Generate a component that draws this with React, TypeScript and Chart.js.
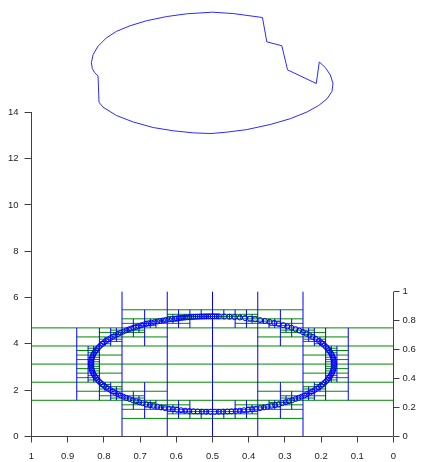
import React, { useEffect, useRef } from 'react';
import { Chart, registerables } from 'chart.js';
Chart.register(...registerables);

// ---- upper blue curve (left axis units) ----
const topCurveX = [0.8347, 0.8295, 0.8162, 0.7932, 0.7655, 0.7285, 0.6824, 0.627, 0.5716, 0.5005, 0.4423, 0.362, 0.35, 0.3084, 0.2927, 0.2133, 0.205, 0.1884, 0.1745, 0.1671, 0.1699, 0.1837, 0.2068, 0.2391, 0.2853, 0.3407, 0.4054, 0.4608, 0.5042, 0.5531, 0.6085, 0.6639, 0.7193, 0.7655, 0.8024, 0.8135, 0.8162, 0.8255, 0.8319, 0.8347];
const topCurveY = [16.14, 16.5, 16.85, 17.21, 17.49, 17.73, 17.95, 18.13, 18.25, 18.32, 18.26, 18.09, 17.04, 16.87, 15.83, 15.24, 16.17, 15.93, 15.61, 15.24, 14.9, 14.58, 14.29, 14.01, 13.72, 13.47, 13.25, 13.14, 13.08, 13.11, 13.2, 13.34, 13.58, 13.86, 14.22, 14.43, 15.57, 15.71, 15.88, 16.14];

// ---- circle markers (right axis units) ----
const markerX = [
  0.5, 0.5059, 0.5117, 0.5176, 0.5234, 0.5293, 0.5351, 0.541, 0.5468, 0.5526, 0.5583, 0.5641, 0.5699, 0.5756, 0.5813, 0.587, 0.5926, 0.5982, 0.6038,
  0.6122, 0.6204, 0.6286, 0.6367, 0.6446, 0.6525, 0.6603, 0.668, 0.6756, 0.683, 0.6903, 0.6975, 0.7046, 0.7114, 0.7182, 0.7248, 0.7313,
  0.7376, 0.7458, 0.7536, 0.7611, 0.7683, 0.7752, 0.7818, 0.788, 0.7939, 0.7994, 0.8045, 0.8093, 0.8137, 0.8177, 0.8213, 0.8245, 0.8274, 0.8298, 0.8319, 0.8335, 0.8347, 0.8355, 0.8359,
  0.8359, 0.8355, 0.8347, 0.8335, 0.8319, 0.8298, 0.8274, 0.8245, 0.8213, 0.8177, 0.8137, 0.8093, 0.8045, 0.7994, 0.7939, 0.788, 0.7818, 0.7752, 0.7683, 0.7611, 0.7536, 0.7458, 0.7376,
  0.7292, 0.7204, 0.7114, 0.7022, 0.6927, 0.683, 0.673, 0.6629, 0.6525, 0.642, 0.6313, 0.6204, 0.6094, 0.5982, 0.587, 0.5756, 0.5641,
  0.5526, 0.541, 0.5293, 0.5176, 0.5059, 0.4941, 0.4824, 0.4707, 0.459, 0.4474,
  0.4359, 0.4244, 0.413, 0.4018, 0.3906, 0.3796, 0.3687, 0.358, 0.3475, 0.3371, 0.327, 0.317, 0.3073, 0.2978, 0.2886, 0.2796, 0.2708, 0.2624, 0.2542, 0.2464, 0.2389, 0.2317, 0.2248, 0.2182, 0.212,
  0.2061, 0.2006, 0.1955, 0.1907, 0.1863, 0.1823, 0.1787, 0.1755, 0.1726, 0.1702, 0.1681, 0.1665, 0.1653, 0.1645, 0.1641,
  0.1641, 0.1645, 0.1653, 0.1665, 0.1681, 0.1702, 0.1726, 0.1755, 0.1787, 0.1823, 0.1863, 0.1907, 0.1955, 0.2006, 0.2061,
  0.2151, 0.2231, 0.2317, 0.2407, 0.2503, 0.2603, 0.2708, 0.2818, 0.2931, 0.3049, 0.317, 0.3295, 0.3422, 0.3554, 0.3687, 0.3823, 0.3962, 0.4102, 0.4244, 0.4388, 0.4532, 0.4678, 0.4824, 0.4883, 0.4941
];
const markerY = [
  0.83, 0.83, 0.8298, 0.8295, 0.8292, 0.8287, 0.8282, 0.8275, 0.8268, 0.8259, 0.825, 0.8239, 0.8228, 0.8215, 0.8202, 0.8187, 0.8172, 0.8156, 0.8139,
  0.8111, 0.8081, 0.8049, 0.8015, 0.7979, 0.794, 0.79, 0.7858, 0.7814, 0.7768, 0.772, 0.767, 0.7618, 0.7564, 0.7509, 0.7452, 0.7394,
  0.7333, 0.7251, 0.7165, 0.7077, 0.6986, 0.6893, 0.6797, 0.67, 0.66, 0.6498, 0.6395, 0.6289, 0.6183, 0.6074, 0.5965, 0.5854, 0.5742, 0.563, 0.5516, 0.5402, 0.5288, 0.5173, 0.5058,
  0.4942, 0.4827, 0.4712, 0.4598, 0.4484, 0.437, 0.4258, 0.4146, 0.4035, 0.3926, 0.3817, 0.3711, 0.3605, 0.3502, 0.34, 0.33, 0.3203, 0.3107, 0.3014, 0.2923, 0.2835, 0.2749, 0.2667,
  0.2586, 0.2509, 0.2436, 0.2365, 0.2297, 0.2232, 0.2171, 0.2114, 0.206, 0.2009, 0.1962, 0.1919, 0.188, 0.1844, 0.1813, 0.1784, 0.1761,
  0.1741, 0.1725, 0.1713, 0.1705, 0.1701, 0.1701, 0.1705, 0.1713, 0.1725, 0.1741,
  0.1761, 0.1784, 0.1813, 0.1844, 0.188, 0.1919, 0.1962, 0.2009, 0.206, 0.2114, 0.2171, 0.2232, 0.2297, 0.2365, 0.2436, 0.2509, 0.2586, 0.2667, 0.2749, 0.2835, 0.2923, 0.3014, 0.3107, 0.3203, 0.33,
  0.34, 0.3502, 0.3605, 0.3711, 0.3817, 0.3926, 0.4035, 0.4146, 0.4258, 0.437, 0.4484, 0.4598, 0.4712, 0.4827, 0.4942,
  0.5058, 0.5173, 0.5288, 0.5402, 0.5516, 0.563, 0.5742, 0.5854, 0.5965, 0.6074, 0.6183, 0.6289, 0.6395, 0.6498, 0.66,
  0.6749, 0.6869, 0.6986, 0.7099, 0.7208, 0.7313, 0.7414, 0.7509, 0.76, 0.7687, 0.7768, 0.7843, 0.7914, 0.7979, 0.8038, 0.8091, 0.8139, 0.818, 0.8216, 0.8245, 0.8268, 0.8285, 0.8295, 0.8298, 0.83
];

// ---- cell crosses: centers in units of 1/denominator; half-length = 1/denominator ----
const cellDenominators = [2, 4, 8, 16, 32, 64];
const level0X = [1];
const level0Y = [1];
const level1X = [1, 1, 3, 3];
const level1Y = [1, 3, 1, 3];
const level2X = [3, 5, 1, 3, 5, 7, 1, 3, 5, 7, 3, 5];
const level2Y = [1, 1, 3, 3, 3, 3, 5, 5, 5, 5, 7, 7];
const level3X = [11, 13, 13, 9, 11, 5, 3, 3, 7, 5, 5, 3, 3, 7, 5, 11, 13, 13, 9, 11];
const level3Y = [11, 9, 11, 13, 13, 11, 9, 11, 13, 13, 5, 7, 5, 3, 3, 5, 7, 5, 3, 3];
const level4X = [23, 27, 27, 25, 25, 19, 17, 19, 21, 23, 9, 5, 5, 7, 7, 13, 15, 13, 11, 9, 9, 5, 5, 7, 7, 13, 15, 13, 11, 9, 23, 27, 27, 25, 25, 19, 17, 19, 21, 23];
const level4Y = [23, 17, 19, 21, 23, 25, 27, 27, 25, 25, 23, 17, 19, 21, 23, 25, 27, 27, 25, 25, 9, 15, 13, 11, 9, 7, 5, 5, 7, 7, 9, 15, 13, 11, 9, 7, 5, 5, 7, 7];
const level5X = [
  53, 53, 53, 53, 51, 51, 49, 49, 49, 47, 45, 45, 43, 43, 41, 39, 39, 37, 35, 33,
  11, 11, 11, 11, 13, 13, 15, 15, 15, 17, 19, 19, 21, 21, 23, 25, 25, 27, 29, 31,
  11, 11, 11, 11, 13, 13, 15, 15, 15, 17, 19, 19, 21, 21, 23, 25, 25, 27, 29, 31,
  53, 53, 53, 53, 51, 51, 49, 49, 49, 47, 45, 45, 43, 43, 41, 39, 39, 37, 35, 33
];
const level5Y = [
  33, 35, 37, 39, 41, 43, 43, 45, 47, 47, 47, 49, 49, 51, 51, 51, 53, 53, 53, 53,
  33, 35, 37, 39, 41, 43, 43, 45, 47, 47, 47, 49, 49, 51, 51, 51, 53, 53, 53, 53,
  31, 29, 27, 25, 23, 21, 21, 19, 17, 17, 17, 15, 15, 13, 13, 13, 11, 11, 11, 11,
  31, 29, 27, 25, 23, 21, 21, 19, 17, 17, 17, 15, 15, 13, 13, 13, 11, 11, 11, 11
];

const leftTickMax = 14;
const rightTickMax = 1;
const FONT = "'Liberation Sans', Arial, sans-serif";
const AXIS_COLOR = '#404040';
const TEXT_COLOR = '#222222';

const trimLabel = (v: any) => String(parseFloat(Number(v).toFixed(3)));

const axisLinesPlugin = {
  id: 'axisLines',
  afterDatasetsDraw(chart: any) {
    const { ctx, scales } = chart;
    const x = scales.x, y = scales.y, yR = scales.yR;
    ctx.save();
    ctx.strokeStyle = AXIS_COLOR;
    ctx.lineWidth = 1;
    ctx.beginPath();
    const left = x.getPixelForValue(1);
    const right = x.getPixelForValue(0);
    const bottom = y.getPixelForValue(0);
    ctx.moveTo(left, y.getPixelForValue(leftTickMax));
    ctx.lineTo(left, bottom);
    ctx.moveTo(left, bottom);
    ctx.lineTo(right, bottom);
    ctx.moveTo(right, bottom);
    ctx.lineTo(right, yR.getPixelForValue(rightTickMax));
    ctx.stroke();
    ctx.restore();
  },
};

export default function App() {
  const ref = useRef<HTMLCanvasElement>(null);
  useEffect(() => {
    const levels: [number[], number[]][] = [
      [level0X, level0Y], [level1X, level1Y], [level2X, level2Y],
      [level3X, level3Y], [level4X, level4Y], [level5X, level5Y],
    ];
    const green: any[] = [];
    const blue: any[] = [];
    levels.forEach(([xs, ys], li) => {
      const d = cellDenominators[li];
      xs.forEach((cx, i) => {
        const cy = ys[i];
        green.push({ x: (cx - 1) / d, y: cy / d }, { x: (cx + 1) / d, y: cy / d }, { x: cx / d, y: null });
        blue.push({ x: cx / d, y: (cy - 1) / d }, { x: cx / d, y: (cy + 1) / d }, { x: cx / d, y: null });
      });
    });
    const markers = markerX.map((v, i) => ({ x: v, y: markerY[i] }));
    const topCurve = topCurveX.map((v, i) => ({ x: v, y: topCurveY[i] }));

    const tickFont = { family: FONT, size: 9.5 };
    const chart = new Chart(ref.current!, {
      type: 'line',
      data: {
        datasets: [
          { data: topCurve, yAxisID: 'y', borderColor: '#2a2aff', borderWidth: 1, pointRadius: 0, fill: false, tension: 0, order: 1 } as any,
          { data: markers, yAxisID: 'yR', showLine: false, pointRadius: 2.5, pointBorderWidth: 1, pointBorderColor: '#0000ff', pointBackgroundColor: 'rgba(0,0,0,0)', order: 2 } as any,
          { data: blue, yAxisID: 'yR', borderColor: '#0000ff', borderWidth: 1, pointRadius: 0, spanGaps: false, fill: false, tension: 0, order: 3 } as any,
          { data: green, yAxisID: 'yR', borderColor: '#008800', borderWidth: 1, pointRadius: 0, spanGaps: false, fill: false, tension: 0, order: 4 } as any,
        ],
      },
      options: {
        responsive: false,
        maintainAspectRatio: false,
        animation: false,
        events: [],
        layout: { padding: 0 },
        plugins: { legend: { display: false }, tooltip: { enabled: false }, title: { display: false } },
        scales: {
          x: {
            type: 'linear', reverse: true, min: 0, max: 1,
            border: { display: false },
            grid: { drawOnChartArea: false, drawTicks: true, tickLength: 6, color: AXIS_COLOR },
            ticks: { stepSize: 0.1, color: TEXT_COLOR, font: tickFont, padding: 8, maxRotation: 0, autoSkip: false, callback: trimLabel },
            afterFit(s: any) { s.height = 25.5; s.paddingLeft = 0; s.paddingRight = 0; },
          },
          y: {
            type: 'linear', position: 'left', min: 0, max: 18.63,
            border: { display: false },
            grid: { drawOnChartArea: false, drawTicks: true, tickLength: 7, color: AXIS_COLOR },
            ticks: { stepSize: 2, color: TEXT_COLOR, font: tickFont, padding: 6, callback: trimLabel },
            afterBuildTicks(s: any) { s.ticks = s.ticks.filter((t: any) => t.value <= leftTickMax + 1e-6); },
            afterFit(s: any) { s.width = 31.5; s.paddingTop = 0; s.paddingBottom = 0; },
          },
          yR: {
            type: 'linear', position: 'right', min: 0, max: 2.9795,
            border: { display: false },
            grid: { drawOnChartArea: false, drawTicks: true, tickLength: 6, color: AXIS_COLOR },
            ticks: { stepSize: 0.2, color: TEXT_COLOR, font: tickFont, padding: 3, callback: trimLabel },
            afterBuildTicks(s: any) { s.ticks = s.ticks.filter((t: any) => t.value <= rightTickMax + 1e-6); },
            afterFit(s: any) { s.width = 28.5; s.paddingTop = 0; s.paddingBottom = 0; },
          },
        },
      } as any,
      plugins: [axisLinesPlugin],
    });
    return () => chart.destroy();
  }, []);
  return (
    <div style={{ position: 'fixed', left: 0, top: 0, width: 422, height: 462, background: '#ffffff' }}>
      <canvas ref={ref} width={422} height={462} style={{ display: 'block' }} />
    </div>
  );
}
